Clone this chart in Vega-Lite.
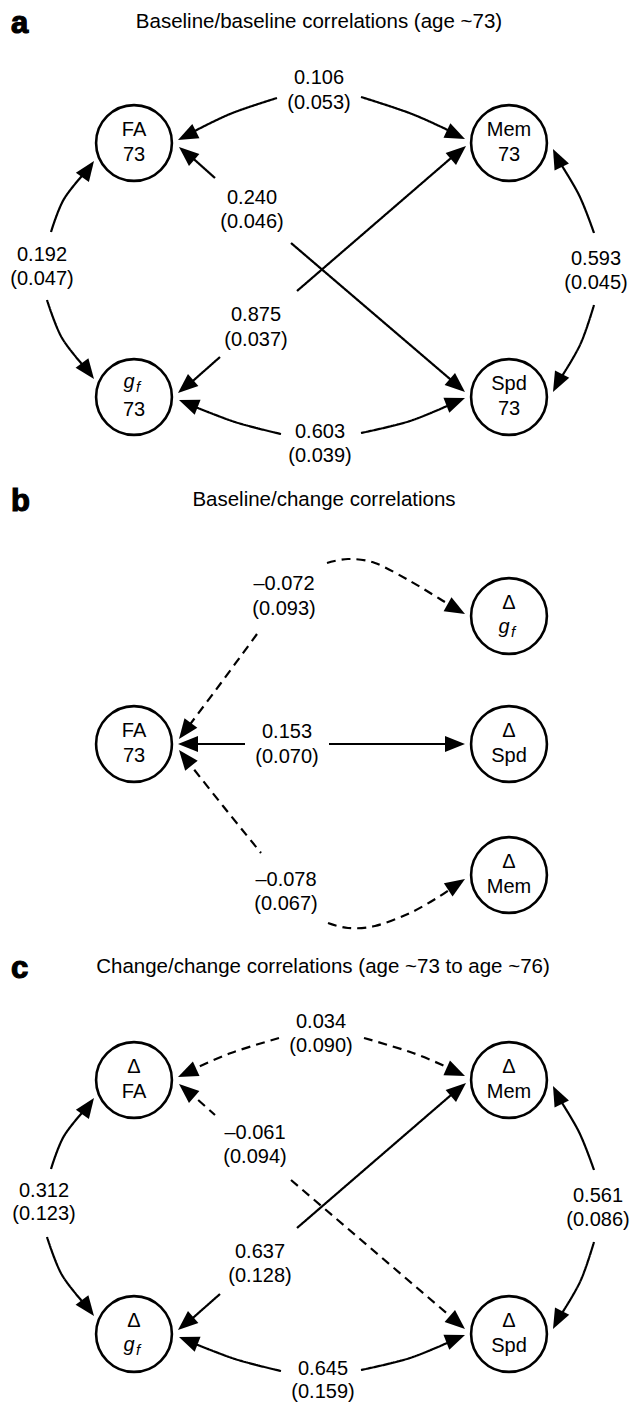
{
  "$schema": "https://vega.github.io/schema/vega-lite/v6.json",
  "width": 635,
  "height": 1404,
  "padding": 0,
  "autosize": {"type": "fit", "contains": "padding"},
  "background": "white",
  "config": {"view": {"stroke": null}, "font": "Liberation Sans"},
  "datasets": {
    "edges": [
      {"id":"a1","i":0,"x":277,"y":98,"d":"s"},{"id":"a1","i":1,"x":230,"y":114,"d":"s"},{"id":"a1","i":2,"x":187,"y":135,"d":"s"},
      {"id":"a2","i":0,"x":361,"y":97,"d":"s"},{"id":"a2","i":1,"x":412,"y":114,"d":"s"},{"id":"a2","i":2,"x":456,"y":134,"d":"s"},
      {"id":"a3","i":0,"x":187,"y":153,"d":"s"},{"id":"a3","i":1,"x":215,"y":178,"d":"s"},
      {"id":"a4","i":0,"x":291,"y":243,"d":"s"},{"id":"a4","i":1,"x":457,"y":385,"d":"s"},
      {"id":"a5","i":0,"x":186,"y":387,"d":"s"},{"id":"a5","i":1,"x":220,"y":357,"d":"s"},
      {"id":"a6","i":0,"x":297,"y":291,"d":"s"},{"id":"a6","i":1,"x":458,"y":152,"d":"s"},
      {"id":"a7","i":0,"x":51,"y":232,"d":"s"},{"id":"a7","i":1,"x":64,"y":199,"d":"s"},{"id":"a7","i":2,"x":88,"y":169,"d":"s"},
      {"id":"a8","i":0,"x":47,"y":300,"d":"s"},{"id":"a8","i":1,"x":62,"y":338,"d":"s"},{"id":"a8","i":2,"x":88,"y":371,"d":"s"},
      {"id":"a9","i":0,"x":594,"y":233,"d":"s"},{"id":"a9","i":1,"x":579,"y":195,"d":"s"},{"id":"a9","i":2,"x":557,"y":158,"d":"s"},
      {"id":"a10","i":0,"x":594,"y":305,"d":"s"},{"id":"a10","i":1,"x":580,"y":345,"d":"s"},{"id":"a10","i":2,"x":557,"y":384,"d":"s"},
      {"id":"a11","i":0,"x":281,"y":434,"d":"s"},{"id":"a11","i":1,"x":235,"y":422,"d":"s"},{"id":"a11","i":2,"x":188,"y":404,"d":"s"},
      {"id":"a12","i":0,"x":361,"y":433,"d":"s"},{"id":"a12","i":1,"x":410,"y":421,"d":"s"},{"id":"a12","i":2,"x":456,"y":402,"d":"s"},
      {"id":"b1","i":0,"x":245,"y":744,"d":"s"},{"id":"b1","i":1,"x":188,"y":744,"d":"s"},
      {"id":"b2","i":0,"x":329,"y":744,"d":"s"},{"id":"b2","i":1,"x":455,"y":744,"d":"s"},
      {"id":"b3","i":0,"x":257,"y":634,"d":"d"},{"id":"b3","i":1,"x":221,"y":683,"d":"d"},{"id":"b3","i":2,"x":185,"y":731,"d":"d"},
      {"id":"b4","i":0,"x":327,"y":563,"d":"d"},{"id":"b4","i":1,"x":348,"y":559,"d":"d"},{"id":"b4","i":2,"x":375,"y":563,"d":"d"},{"id":"b4","i":3,"x":410,"y":581,"d":"d"},{"id":"b4","i":4,"x":440,"y":599,"d":"d"},{"id":"b4","i":5,"x":456,"y":609,"d":"d"},
      {"id":"b5","i":0,"x":185,"y":758,"d":"d"},{"id":"b5","i":1,"x":223,"y":806,"d":"d"},{"id":"b5","i":2,"x":261,"y":853,"d":"d"},
      {"id":"b6","i":0,"x":328,"y":923,"d":"d"},{"id":"b6","i":1,"x":348,"y":928,"d":"d"},{"id":"b6","i":2,"x":375,"y":926,"d":"d"},{"id":"b6","i":3,"x":410,"y":913,"d":"d"},{"id":"b6","i":4,"x":440,"y":896,"d":"d"},{"id":"b6","i":5,"x":457,"y":884,"d":"d"},
      {"id":"c1","i":0,"x":279,"y":1038,"d":"d"},{"id":"c1","i":1,"x":231,"y":1053,"d":"d"},{"id":"c1","i":2,"x":187,"y":1072,"d":"d"},
      {"id":"c2","i":0,"x":364,"y":1038,"d":"d"},{"id":"c2","i":1,"x":413,"y":1053,"d":"d"},{"id":"c2","i":2,"x":456,"y":1071,"d":"d"},
      {"id":"c3","i":0,"x":187,"y":1090,"d":"d"},{"id":"c3","i":1,"x":215,"y":1115,"d":"d"},
      {"id":"c4","i":0,"x":291,"y":1180,"d":"d"},{"id":"c4","i":1,"x":457,"y":1322,"d":"d"},
      {"id":"c5","i":0,"x":186,"y":1324,"d":"s"},{"id":"c5","i":1,"x":220,"y":1294,"d":"s"},
      {"id":"c6","i":0,"x":297,"y":1228,"d":"s"},{"id":"c6","i":1,"x":458,"y":1089,"d":"s"},
      {"id":"c7","i":0,"x":51,"y":1169,"d":"s"},{"id":"c7","i":1,"x":64,"y":1136,"d":"s"},{"id":"c7","i":2,"x":88,"y":1106,"d":"s"},
      {"id":"c8","i":0,"x":47,"y":1237,"d":"s"},{"id":"c8","i":1,"x":62,"y":1275,"d":"s"},{"id":"c8","i":2,"x":88,"y":1308,"d":"s"},
      {"id":"c9","i":0,"x":594,"y":1170,"d":"s"},{"id":"c9","i":1,"x":579,"y":1132,"d":"s"},{"id":"c9","i":2,"x":557,"y":1095,"d":"s"},
      {"id":"c10","i":0,"x":594,"y":1242,"d":"s"},{"id":"c10","i":1,"x":580,"y":1282,"d":"s"},{"id":"c10","i":2,"x":557,"y":1321,"d":"s"},
      {"id":"c11","i":0,"x":281,"y":1371,"d":"s"},{"id":"c11","i":1,"x":235,"y":1359,"d":"s"},{"id":"c11","i":2,"x":188,"y":1341,"d":"s"},
      {"id":"c12","i":0,"x":361,"y":1370,"d":"s"},{"id":"c12","i":1,"x":410,"y":1358,"d":"s"},{"id":"c12","i":2,"x":456,"y":1339,"d":"s"}
    ],
    "arrows": [
      {"x":178,"y":140,"a":243.4},{"x":465,"y":139,"a":115.3},{"x":179,"y":147,"a":310.6},{"x":465,"y":392,"a":130.6},
      {"x":178,"y":393,"a":229.4},{"x":466,"y":146,"a":49.4},{"x":94,"y":161,"a":35.5},{"x":94,"y":379,"a":143.1},
      {"x":553,"y":149,"a":334},{"x":553,"y":392,"a":207.1},{"x":179,"y":400,"a":291.4},{"x":465,"y":398,"a":68.6},
      {"x":178,"y":744,"a":270},{"x":465,"y":744,"a":90},{"x":179,"y":739,"a":216.6},{"x":465,"y":614,"a":119.3},
      {"x":179,"y":750,"a":321.5},{"x":465,"y":879,"a":57},
      {"x":178,"y":1077,"a":245.6},{"x":465,"y":1076,"a":113.9},{"x":179,"y":1084,"a":310.6},{"x":465,"y":1329,"a":130.6},
      {"x":178,"y":1330,"a":229.4},{"x":466,"y":1083,"a":49.4},{"x":94,"y":1098,"a":35.5},{"x":94,"y":1316,"a":143.1},
      {"x":553,"y":1086,"a":334},{"x":553,"y":1329,"a":207.1},{"x":179,"y":1337,"a":291.4},{"x":465,"y":1335,"a":68.6}
    ],
    "nodes": [
      {"x":134,"y":143},{"x":509,"y":143},{"x":134,"y":397},{"x":509,"y":397},
      {"x":134,"y":744},{"x":509,"y":616},{"x":509,"y":744},{"x":509,"y":875},
      {"x":134,"y":1080},{"x":509,"y":1080},{"x":134,"y":1334},{"x":509,"y":1334}
    ],
    "texts": [
      {"x":134,"y":130,"t":"FA"},{"x":134,"y":155,"t":"73"},{"x":509,"y":130,"t":"Mem"},{"x":509,"y":155,"t":"73"},
      {"x":134,"y":410,"t":"73"},{"x":509,"y":384,"t":"Spd"},{"x":509,"y":409,"t":"73"},
      {"x":319,"y":78,"t":"0.106"},{"x":319,"y":103,"t":"(0.053)"},
      {"x":252,"y":198,"t":"0.240"},{"x":252,"y":222,"t":"(0.046)"},
      {"x":256,"y":315,"t":"0.875"},{"x":256,"y":340,"t":"(0.037)"},
      {"x":42,"y":255,"t":"0.192"},{"x":42,"y":279,"t":"(0.047)"},
      {"x":596,"y":259,"t":"0.593"},{"x":596,"y":283,"t":"(0.045)"},
      {"x":320,"y":432,"t":"0.603"},{"x":320,"y":456,"t":"(0.039)"},
      {"x":134,"y":731,"t":"FA"},{"x":134,"y":756,"t":"73"},{"x":509,"y":603,"t":"Δ"},
      {"x":509,"y":731,"t":"Δ"},{"x":509,"y":756,"t":"Spd"},{"x":509,"y":862,"t":"Δ"},{"x":509,"y":887,"t":"Mem"},
      {"x":284,"y":584,"t":"–0.072"},{"x":284,"y":609,"t":"(0.093)"},
      {"x":287,"y":732,"t":"0.153"},{"x":287,"y":757,"t":"(0.070)"},
      {"x":286,"y":880,"t":"–0.078"},{"x":286,"y":904,"t":"(0.067)"},
      {"x":134,"y":1067,"t":"Δ"},{"x":134,"y":1092,"t":"FA"},{"x":509,"y":1067,"t":"Δ"},{"x":509,"y":1092,"t":"Mem"},
      {"x":134,"y":1321,"t":"Δ"},{"x":509,"y":1321,"t":"Δ"},{"x":509,"y":1346,"t":"Spd"},
      {"x":321,"y":1022,"t":"0.034"},{"x":321,"y":1046,"t":"(0.090)"},
      {"x":255,"y":1133,"t":"–0.061"},{"x":255,"y":1157,"t":"(0.094)"},
      {"x":260,"y":1252,"t":"0.637"},{"x":260,"y":1276,"t":"(0.128)"},
      {"x":44,"y":1191,"t":"0.312"},{"x":44,"y":1214,"t":"(0.123)"},
      {"x":598,"y":1196,"t":"0.561"},{"x":598,"y":1220,"t":"(0.086)"},
      {"x":323,"y":1369,"t":"0.645"},{"x":323,"y":1392,"t":"(0.159)"}
    ],
    "ital": [
      {"x":129,"y":388,"t":"g","s":20},{"x":138,"y":392,"t":"f","s":15},
      {"x":504,"y":633,"t":"g","s":20},{"x":513,"y":637,"t":"f","s":15},
      {"x":129,"y":1351,"t":"g","s":20},{"x":138,"y":1355,"t":"f","s":15}
    ],
    "letters": [
      {"x":11,"y":33,"t":"a"},{"x":11,"y":511,"t":"b"},{"x":11,"y":978,"t":"c"}
    ],
    "titles": [
      {"x":319,"y":28,"t":"Baseline/baseline correlations (age ~73)"},
      {"x":324,"y":506,"t":"Baseline/change correlations"},
      {"x":323,"y":973,"t":"Change/change correlations (age ~73 to age ~76)"}
    ]
  },
  "layer": [
    {
      "data": {"name": "edges"},
      "mark": {"type": "line", "interpolate": "cardinal", "stroke": "black", "strokeWidth": 2.2},
      "encoding": {
        "x": {"field": "x", "type": "quantitative", "scale": {"domain": [0, 635], "nice": false, "zero": false}, "axis": null},
        "y": {"field": "y", "type": "quantitative", "scale": {"domain": [0, 1404], "nice": false, "zero": false, "reverse": true}, "axis": null},
        "detail": {"field": "id"},
        "order": {"field": "i", "type": "quantitative"},
        "strokeDash": {"field": "d", "type": "nominal", "scale": {"domain": ["s", "d"], "range": [[1, 0], [9, 6]]}, "legend": null}
      }
    },
    {
      "data": {"name": "nodes"},
      "mark": {"type": "point", "shape": "circle", "size": 5750, "fill": "white", "stroke": "black", "strokeWidth": 2.6, "opacity": 1, "fillOpacity": 1},
      "encoding": {
        "x": {"field": "x", "type": "quantitative"},
        "y": {"field": "y", "type": "quantitative"}
      }
    },
    {
      "data": {"name": "arrows"},
      "mark": {"type": "point", "shape": "M0,0L0.4,1L-0.4,1Z", "size": 1600, "filled": true, "color": "black", "opacity": 1, "strokeWidth": 0},
      "encoding": {
        "x": {"field": "x", "type": "quantitative"},
        "y": {"field": "y", "type": "quantitative"},
        "angle": {"field": "a", "type": "quantitative", "scale": null}
      }
    },
    {
      "data": {"name": "texts"},
      "mark": {"type": "text", "font": "Liberation Sans", "fontSize": 20, "align": "center", "baseline": "middle", "color": "black"},
      "encoding": {
        "x": {"field": "x", "type": "quantitative"},
        "y": {"field": "y", "type": "quantitative"},
        "text": {"field": "t"}
      }
    },
    {
      "data": {"name": "ital"},
      "mark": {"type": "text", "font": "Liberation Sans", "fontStyle": "italic", "align": "center", "baseline": "alphabetic", "color": "black"},
      "encoding": {
        "x": {"field": "x", "type": "quantitative"},
        "y": {"field": "y", "type": "quantitative"},
        "text": {"field": "t"},
        "size": {"field": "s", "type": "quantitative", "scale": null}
      }
    },
    {
      "data": {"name": "letters"},
      "mark": {"type": "text", "font": "Liberation Sans", "fontWeight": "bold", "fontSize": 31, "align": "left", "baseline": "alphabetic", "color": "black", "stroke": "black", "strokeWidth": 1.2},
      "encoding": {
        "x": {"field": "x", "type": "quantitative"},
        "y": {"field": "y", "type": "quantitative"},
        "text": {"field": "t"}
      }
    },
    {
      "data": {"name": "titles"},
      "mark": {"type": "text", "font": "Liberation Sans", "fontSize": 20.5, "align": "center", "baseline": "alphabetic", "color": "black"},
      "encoding": {
        "x": {"field": "x", "type": "quantitative"},
        "y": {"field": "y", "type": "quantitative"},
        "text": {"field": "t"}
      }
    }
  ]
}
